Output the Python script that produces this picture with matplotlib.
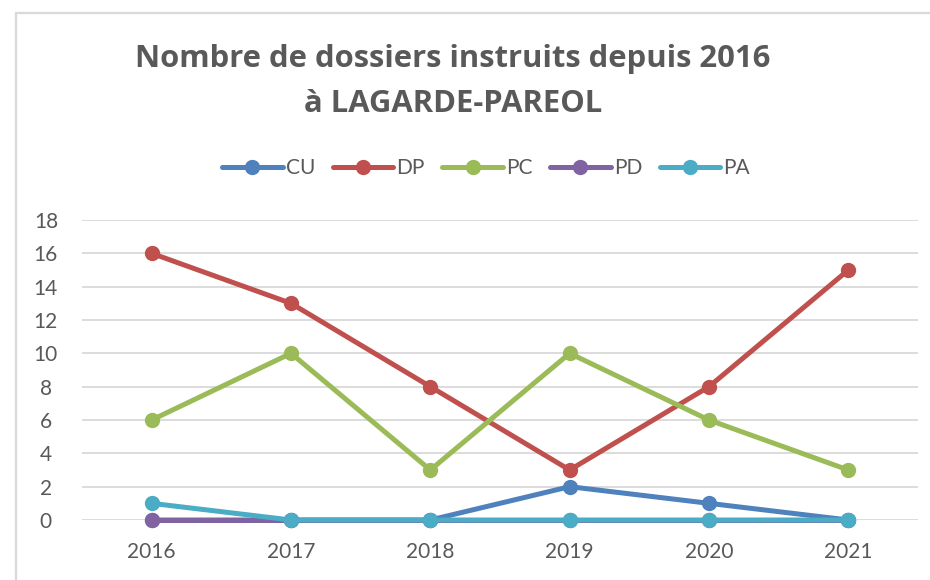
import matplotlib
matplotlib.use("Agg")
import matplotlib.pyplot as plt
from matplotlib.patches import Rectangle
from matplotlib.lines import Line2D

years = ["2016", "2017", "2018", "2019", "2020", "2021"]
cu = [0, 0, 0, 2, 1, 0]
dp = [16, 13, 8, 3, 8, 15]
pc = [6, 10, 3, 10, 6, 3]
pd_ = [0, 0, 0, 0, 0, 0]
pa = [1, 0, 0, 0, 0, 0]

series_names = ["CU", "DP", "PC", "PD", "PA"]
series_values = [cu, dp, pc, pd_, pa]
series_colors = ["#4F81BD", "#C0504D", "#9BBB59", "#8064A2", "#4BACC6"]

yticks = list(range(0, 19, 2))

plt.rcParams["font.family"] = ["Lato", "DejaVu Sans"]
text_color = "#595959"

W, H = 930, 580
fig = plt.figure(figsize=(W / 100, H / 100), dpi=100)

# chart frame
fig.patches.append(Rectangle((16 / W, -0.05), 1.1, 1 - 13 / H + 0.05,
                             transform=fig.transFigure, fill=False,
                             edgecolor="#D9D9D9", linewidth=1.6, zorder=0))

left, right, top, bottom = 82, 918, 220, 520
ax = fig.add_axes([left / W, 1 - bottom / H, (right - left) / W, (bottom - top) / H])

x = list(range(len(years)))
for name, vals, col in zip(series_names, series_values, series_colors):
    ax.plot(x, vals, color=col, linewidth=3.6, marker="o", markersize=10,
            solid_capstyle="round", solid_joinstyle="round",
            clip_on=False, zorder=3, label=name)

ax.set_xlim(-0.5, len(years) - 0.5)
ax.set_ylim(0, 18)
ax.set_yticks(yticks)
ax.set_xticks(x)
ax.set_xticklabels(years)
ax.grid(axis="y", color="#D9D9D9", linewidth=1.3, zorder=0)
ax.set_axisbelow(True)
for s in ax.spines.values():
    s.set_visible(False)
ax.tick_params(axis="both", length=0, labelsize=15, labelcolor=text_color)
ax.tick_params(axis="x", pad=16)
ax.tick_params(axis="y", pad=26)
for lbl in ax.get_yticklabels():
    lbl.set_horizontalalignment("center")

title_font = ["Open Sans", "DejaVu Sans"]
fig.text(453 / W, 1 - 59 / H, "Nombre de dossiers instruits depuis 2016",
         ha="center", va="center", fontsize=22.3, fontweight="bold",
         color=text_color, family=title_font)
fig.text(453 / W, 1 - 104 / H, "à LAGARDE-PAREOL",
         ha="center", va="center", fontsize=22.3, fontweight="bold",
         color=text_color, family=title_font)

handles = [Line2D([0], [0], color=c, linewidth=3.6, marker="o", markersize=10,
                  solid_capstyle="round") for c in series_colors]
fig.legend(handles, series_names, loc="center", bbox_to_anchor=(486 / W, 1 - 168 / H),
           ncol=5, frameon=False, fontsize=15, labelcolor=text_color,
           handlelength=2.9, handletextpad=0.15, columnspacing=0.85)

fig.savefig("out.png", dpi=100)
